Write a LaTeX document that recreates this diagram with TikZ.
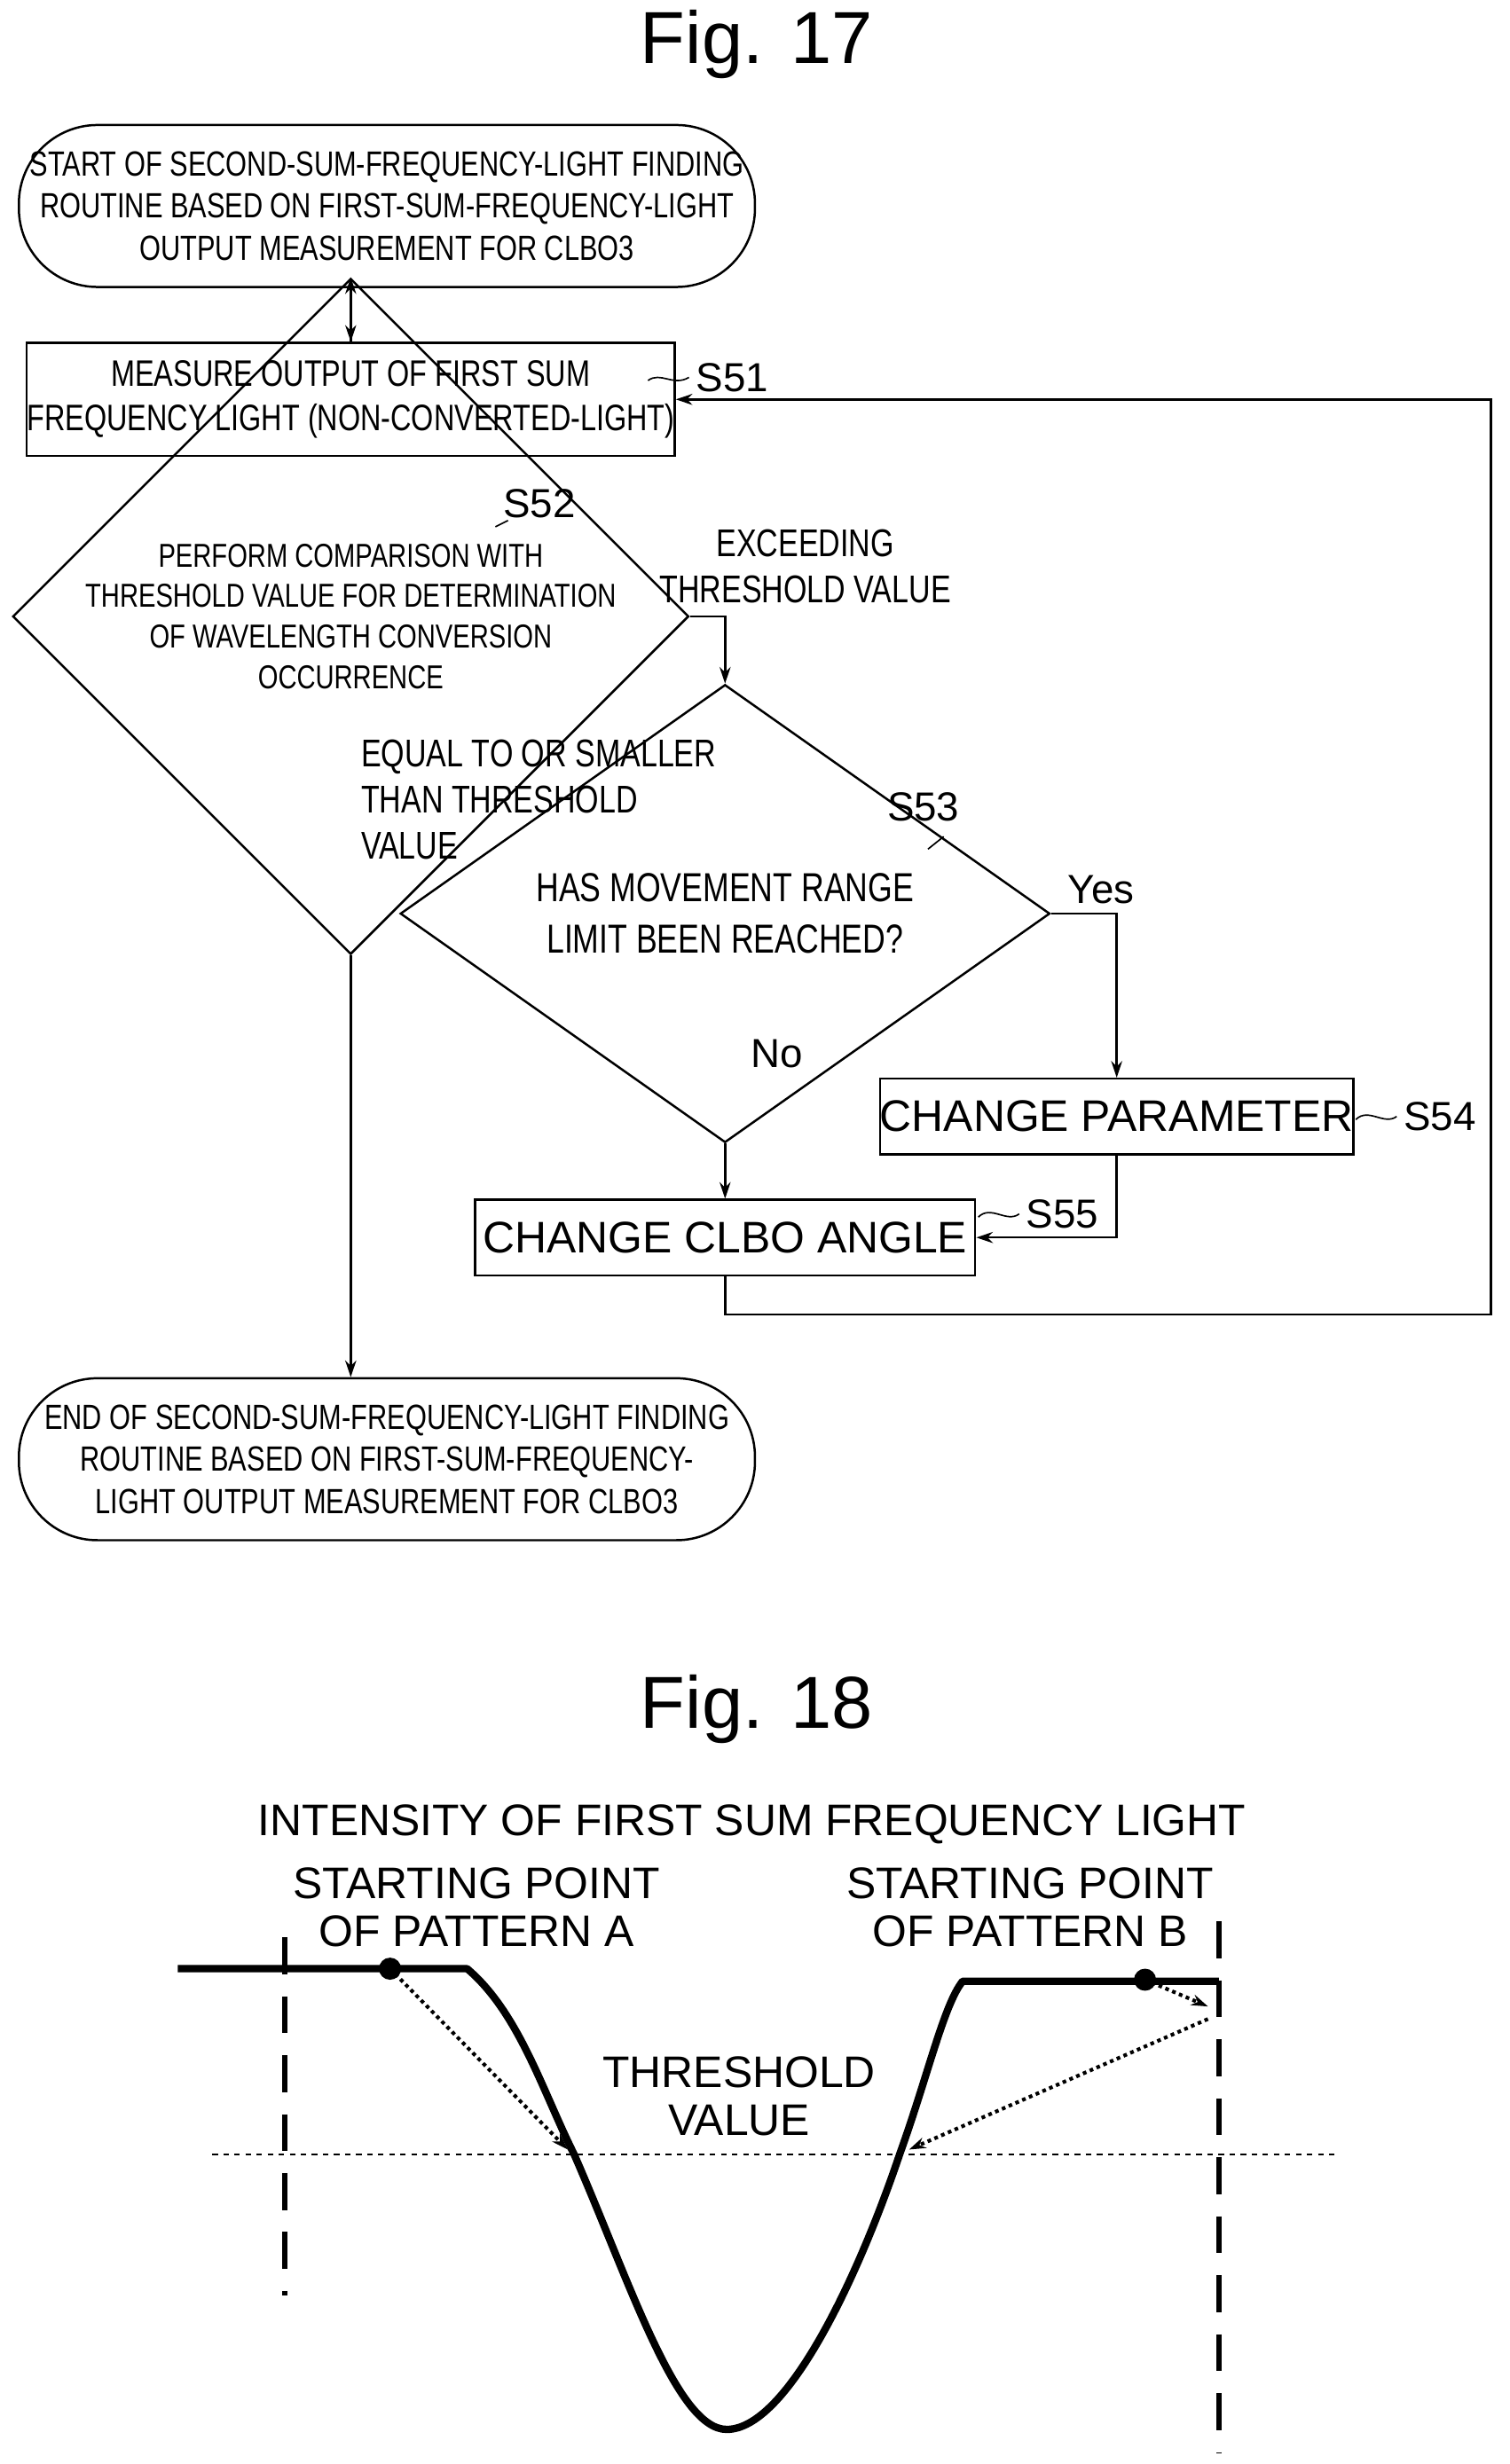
\documentclass[tikz,border=0pt]{standalone}
\usepackage{fontspec}
\setmainfont{Liberation Sans}
\newfontfamily\narrowfont[FakeStretch=0.78]{Liberation Sans}
\usetikzlibrary{shapes.geometric,arrows.meta}
\begin{document}
\begin{tikzpicture}[x=0.03cm,y=-0.03cm,
  line width=1.2pt,>={Stealth[length=9pt,width=6pt]},
  term/.style={draw,rounded corners=1.5cm,minimum width=14.04cm,minimum height=3.09cm,
    align=center,font=\narrowfont\fontsize{19}{23}\selectfont},
  box/.style={draw,align=center,inner sep=0pt},
  dia/.style={draw,diamond,inner sep=0pt,align=center}]
\useasboundingbox (0,0) rectangle (960,1567);

\node at (481,28) {\fontsize{40}{48}\selectfont Fig. 17};

% flowchart
\node[term] (start) at (246,131) {START OF SECOND-SUM-FREQUENCY-LIGHT FINDING\\ROUTINE BASED ON FIRST-SUM-FREQUENCY-LIGHT\\OUTPUT MEASUREMENT FOR CLBO3};
\node[box,minimum width=11.1cm,minimum height=2.16cm,font=\narrowfont\fontsize{20}{24}\selectfont] (s51) at (223,254) {MEASURE OUTPUT OF FIRST SUM\\FREQUENCY LIGHT (NON-CONVERTED-LIGHT)};
\node[dia,minimum width=12.45cm,minimum height=4.26cm,font=\narrowfont\fontsize{18}{22}\selectfont] (s52) at (223,392) {PERFORM COMPARISON WITH\\THRESHOLD VALUE FOR DETERMINATION\\OF WAVELENGTH CONVERSION\\OCCURRENCE};
\node[dia,minimum width=12.39cm,minimum height=4.23cm,font=\fontsize{22}{28}\selectfont\narrowfont] (s53) at (461,581) {HAS MOVEMENT RANGE\\LIMIT BEEN REACHED?};
\node[box,minimum width=8.94cm,minimum height=1.44cm,font=\fontsize{24}{28}\selectfont] (s54) at (710,710) {CHANGE PARAMETER};
\node[box,minimum width=9.54cm,minimum height=1.44cm,font=\fontsize{24}{28}\selectfont] (s55) at (461,787) {CHANGE CLBO ANGLE};
\node[term] (end) at (246,928) {END OF SECOND-SUM-FREQUENCY-LIGHT FINDING\\ROUTINE BASED ON FIRST-SUM-FREQUENCY-\\LIGHT OUTPUT MEASUREMENT FOR CLBO3};

% connectors
\draw[->] (start.south -| s51.north) -- (s51);
\draw[->] (s51) -- (s52);
\draw[->] (s52.south) -- (end.north -| s52.south);
\draw[->] (s52.east) -| (s53.north);
\draw[->] (s53.east) -| (s54.north);
\draw[->] (s53.south) -- (s55.north);
\draw[->] (s54.south) |- (s55.east);
\coordinate (back) at (948,836);
\draw[->] (s55.south) |- (back) |- (s51.east);

% labels
\begin{scope}[font=\fontsize{22}{26}\selectfont]
\node[right] (l51) at (438,240) {S51};
\draw[line width=0.8pt] (412,242) .. controls (420,236) and (428,246) .. (l51.west);
\node (l52) at (343,320) {S52};
\draw[line width=0.8pt] (315,335) -- (323,331);
\node (l53) at (587,513) {S53};
\draw[line width=0.8pt] (600,532) -- (590,540);
\node[right] (l54) at (888,710) {S54};
\draw[line width=0.8pt] (862,712) .. controls (870,704) and (880,716) .. (l54.west);
\node[right] (l55) at (648,772) {S55};
\draw[line width=0.8pt] (622,774) .. controls (630,766) and (640,778) .. (l55.west);
\node (yes) at (700,566) {Yes};
\node (no) at (494,670) {No};
\end{scope}
\node[align=center,font=\narrowfont\fontsize{21}{25}\selectfont] (exc) at (512,360) {EXCEEDING\\THRESHOLD VALUE};
\node[align=left,anchor=north west,font=\narrowfont\fontsize{21}{25}\selectfont] (eq) at (225,466) {EQUAL TO OR SMALLER\\THAN THRESHOLD\\VALUE};

% Fig. 18
\node at (481,1087) {\fontsize{40}{48}\selectfont Fig. 18};
\begin{scope}[font=\fontsize{24}{26}\selectfont]
\node (inten) at (478,1160) {INTENSITY OF FIRST SUM FREQUENCY LIGHT};
\node[align=center] (pa) at (303,1213) {STARTING POINT\\OF PATTERN A};
\node[align=center] (pb) at (655,1213) {STARTING POINT\\OF PATTERN B};
\node[align=center] (thr) at (470,1333) {THRESHOLD\\VALUE};
\end{scope}
\draw[dashed,line width=0.8pt] (135,1370) -- (850,1370);
\draw[dashed,line width=3pt,dash pattern=on 20pt off 12pt] (181,1232) -- (181,1460);
\draw[dashed,line width=3pt,dash pattern=on 20pt off 12pt] (775,1222) -- (775,1560);
\draw[line width=4pt,line join=round]
  (113,1252) -- (297,1252) .. controls (330,1280) and (345,1330) ..
  (365,1370) .. controls (400,1450) and (430,1545) ..
  (462,1545) .. controls (500,1545) and (545,1450) ..
  (572,1370) .. controls (590,1320) and (600,1275) ..
  (612,1260) -- (775,1260);
\coordinate (dota) at (248,1252);
\coordinate (dotb) at (728,1259);
\fill (dota) circle (6pt);
\fill (dotb) circle (6pt);
\draw[dotted,line width=2pt,->] (dota) -- (361,1367);
\draw[dotted,line width=2pt,->] (dotb) -- (768,1276);
\draw[dotted,line width=2pt,->] (768,1284) -- (578,1367);
\end{tikzpicture}
\end{document}
